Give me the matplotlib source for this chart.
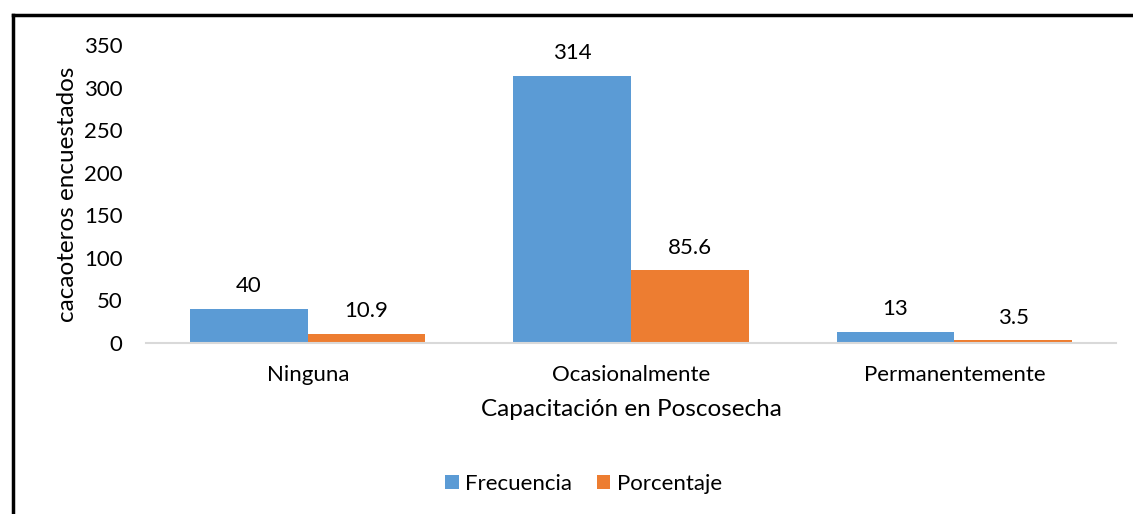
import numpy as np
import matplotlib.pyplot as plt
from matplotlib.lines import Line2D

plt.rcParams['font.family'] = ['Lato', 'DejaVu Sans']

categorias = ["Ninguna", "Ocasionalmente", "Permanentemente"]
frecuencia = [40, 314, 13]
porcentaje = [10.9, 85.6, 3.5]
etq_frec = ["40", "314", "13"]
etq_porc = ["10.9", "85.6", "3.5"]
yticks = [0, 50, 100, 150, 200, 250, 300, 350]

fig = plt.figure(figsize=(11.33, 5.14), dpi=100)
ax = fig.add_axes([0.129, 0.3327, 0.856, 0.5798])

x = np.arange(len(categorias))
w = 0.364
b1 = ax.bar(x - w/2, frecuencia, w, color="#5B9BD5", label="Frecuencia")
b2 = ax.bar(x + w/2, porcentaje, w, color="#ED7D31", label="Porcentaje")

for rect, t in zip(b1, etq_frec):
    ax.annotate(t, (rect.get_x() + rect.get_width()/2, rect.get_height()),
                xytext=(0, 9), textcoords="offset points", ha="center", va="bottom", fontsize=16)
for rect, t in zip(b2, etq_porc):
    ax.annotate(t, (rect.get_x() + rect.get_width()/2, rect.get_height()),
                xytext=(0, 9), textcoords="offset points", ha="center", va="bottom", fontsize=16)

ax.set_xlim(-0.5, 2.5)
ax.set_ylim(0, 350)
ax.set_yticks(yticks)
ax.set_xticks(x)
ax.set_xticklabels(categorias)
ax.tick_params(axis="both", length=0, labelsize=16, colors="#000000")
ax.tick_params(axis="x", pad=16)
ax.tick_params(axis="y", pad=17)
for s in ["top", "right", "left"]:
    ax.spines[s].set_visible(False)
ax.spines["bottom"].set_color("#d9d9d9")
ax.spines["bottom"].set_linewidth(1.5)

ax.set_xlabel("Capacitación en Poscosecha", fontsize=17.5, labelpad=10)
ax.set_ylabel("cacaoteros encuestados", fontsize=17.5, labelpad=4)

fig.legend(handles=[b1, b2], loc="center", bbox_to_anchor=(0.515, 0.058), ncol=2,
           frameon=False, fontsize=16, handlelength=0.6, handleheight=0.6,
           handletextpad=0.3, columnspacing=1.1)

# borde del grafico (izquierda y arriba)
fig.add_artist(Line2D([13/1133, 13/1133], [0, 1 - 15/514], color="black", lw=2.5,
                      transform=fig.transFigure))
fig.add_artist(Line2D([13/1133, 1], [1 - 15/514, 1 - 15/514], color="black", lw=2.5,
                      transform=fig.transFigure))

fig.savefig("out.png", dpi=100)
